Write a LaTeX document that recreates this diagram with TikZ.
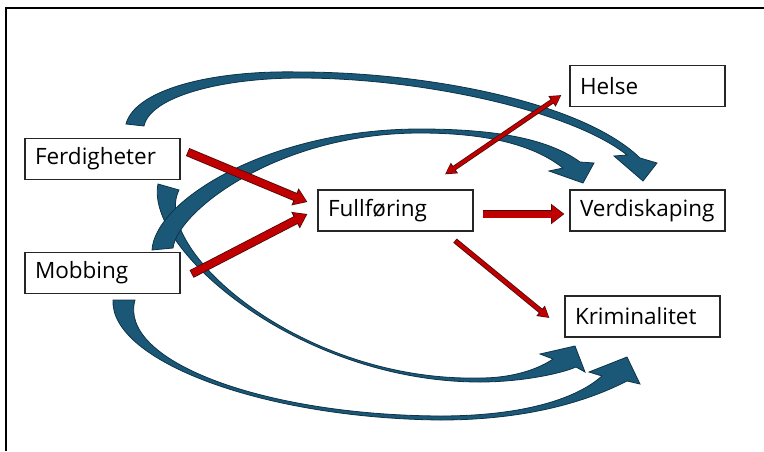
\documentclass[tikz,border=0pt]{standalone}
\usepackage{fontspec}
\setmainfont{Open Sans}
\usetikzlibrary{arrows.meta,calc}
\definecolor{bluefill}{HTML}{1B5878}
\definecolor{blueline}{HTML}{0D3347}
\definecolor{redfill}{HTML}{C00000}
\definecolor{redline}{HTML}{4A0A0A}
\begin{document}
\begin{tikzpicture}[x=1pt,y=-1pt,
  box/.style={draw=black!85, line width=1.2pt, fill=white, minimum height=41pt,
    text width=135pt, inner xsep=10pt, inner ysep=0pt, align=left,
    font=\fontsize{22.5}{26}\selectfont},
  bluearrow/.style={fill=bluefill, draw=blueline, line width=0.8pt, line join=miter},
  redbig/.style={redline, line width=8.6pt, -{Triangle[length=13.4pt,width=17.6pt]}},
  redbigin/.style={redfill, line width=7pt, shorten <=0.8pt, shorten >=1.3pt, -{Triangle[length=11pt,width=15pt]}},
  redmid/.style={redline, line width=8.6pt, -{Triangle[length=13.4pt,width=19.6pt]}},
  redmidin/.style={redfill, line width=7pt, shorten <=0.8pt, shorten >=1.3pt, -{Triangle[length=11pt,width=17pt]}},
  redthin/.style={redline, line width=5.4pt, -{Triangle[length=11.4pt,width=12.6pt]}},
  redthinin/.style={redfill, line width=3.8pt, shorten <=0.8pt, shorten >=1.3pt, -{Triangle[length=9pt,width=10pt]}},
  redtwo/.style={redline, line width=5pt, {Triangle[length=11.4pt,width=12pt]}-{Triangle[length=11.4pt,width=12pt]}},
  redtwoin/.style={redfill, line width=3.4pt, shorten <=1.3pt, shorten >=1.3pt, {Triangle[length=9pt,width=9.4pt]}-{Triangle[length=9pt,width=9.4pt]}}
]
\useasboundingbox (0,0) rectangle (764,451);
\draw[line width=1.5pt] (6,451) -- (6,8) -- (764,8);

\node[box] (ferd) at (102.5,159) {Ferdigheter};
\node[box] (mobb) at (102.5,273) {Mobbing};
\node[box] (full) at (395.5,210.5) {Fullføring};
\node[box] (helse) at (647.5,86) {Helse};
\node[box] (verd) at (647.5,210.5) {Verdiskaping};
\node[box] (krim) at (642.5,316.5) {Kriminalitet};

% blue curved arrows
% Mobbing -> Kriminalitet (lower)
\filldraw[bluearrow] (113,300) .. controls (110,360) and (260,418) .. (440,420)
  .. controls (530,420) and (590,400) .. (627,381) -- (640,384) -- (627,357) -- (589,372) -- (602,376)
  .. controls (575,400) and (520,416) .. (440,416)
  .. controls (260,415) and (118,360) .. (135,300) -- cycle;
% Ferdigheter -> Verdiskaping (top)
\filldraw[bluearrow] (126,124) .. controls (135,90) and (210,70) .. (300,72)
  .. controls (420,72) and (580,100) .. (640,158) -- (657,163) -- (643,181) -- (614,156) -- (627,155)
  .. controls (570,110) and (420,78) .. (300,78)
  .. controls (220,78) and (150,97) .. (144,126) -- cycle;
% Ferdigheter -> Kriminalitet
\filldraw[bluearrow] (158,184) .. controls (145,250) and (300,382) .. (480,382)
  .. controls (520,382) and (560,374) .. (576,367) -- (585,372) -- (575,346) -- (540,354) -- (553,359)
  .. controls (540,368) and (515,378) .. (480,378)
  .. controls (300,382) and (150,248) .. (179,190) -- cycle;
% Mobbing -> Verdiskaping
\filldraw[bluearrow] (152,250) .. controls (155,200) and (270,129) .. (420,129)
  .. controls (500,129) and (550,140) .. (580,162) -- (594,163) -- (583,183) -- (549,171) -- (563,168)
  .. controls (540,150) and (500,133) .. (420,133)
  .. controls (280,133) and (178,210) .. (173,248) -- cycle;

% red arrows
\coordinate (r1a) at ($(ferd.east)+(7,-7)$);
\coordinate (r1b) at ($(full.west)+(-10,-8.5)$);
\coordinate (r2a) at ($(mobb.east)+(11,1)$);
\coordinate (r2b) at ($(full.west)+(-10,3.5)$);
\coordinate (r3a) at ($(full.east)+(9,3.5)$);
\coordinate (r3b) at ($(verd.west)+(-5,3.5)$);
\coordinate (r4a) at ($(full.south)+(59.5,9)$);
\coordinate (r4b) at ($(krim.west)+(-15,1.5)$);
\coordinate (r5a) at ($(full.north)+(49.5,-15)$);
\coordinate (r5b) at ($(helse.west)+(-8,9)$);

\draw[redbig] (r1a) -- (r1b);
\draw[redbigin] (r1a) -- (r1b);
\draw[redbig] (r2a) -- (r2b);
\draw[redbigin] (r2a) -- (r2b);
\draw[redmid] (r3a) -- (r3b);
\draw[redmidin] (r3a) -- (r3b);
\draw[redthin] (r4a) -- (r4b);
\draw[redthinin] (r4a) -- (r4b);
\draw[redtwo] (r5a) -- (r5b);
\draw[redtwoin] (r5a) -- (r5b);
\end{tikzpicture}
\end{document}
